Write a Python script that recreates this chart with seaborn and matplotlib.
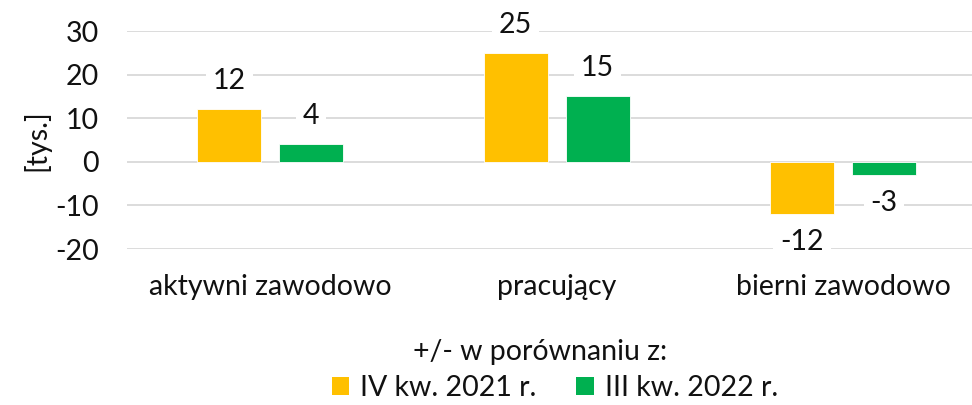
import matplotlib
matplotlib.use("Agg")
import matplotlib.pyplot as plt
import seaborn as sns
import pandas as pd
from matplotlib.patches import Patch

# dane
kategorie = ["aktywni zawodowo", "pracujący", "bierni zawodowo"]
serie = ["IV kw. 2021 r.", "III kw. 2022 r."]
zmiana_iv_2021 = [12, 25, -12]
zmiana_iii_2022 = [4, 15, -3]
kolory = ["#FFC000", "#00B050"]
y_ticks = [-20, -10, 0, 10, 20, 30]

df = pd.DataFrame({
    "kategoria": kategorie * 2,
    "seria": [serie[0]] * 3 + [serie[1]] * 3,
    "wartosc": zmiana_iv_2021 + zmiana_iii_2022,
})

sns.set_style("white")
plt.rcParams["font.family"] = ["Lato", "DejaVu Sans"]
plt.rcParams["axes.unicode_minus"] = False

FS = 20.5
TXT = "#111111"

fig = plt.figure(figsize=(9.72, 4.05), dpi=100)
ax = fig.add_axes([127 / 972, 1 - 249 / 405, 1 - 127 / 972, 218 / 405])

sns.barplot(data=df, x="kategoria", y="wartosc", hue="seria",
            palette=kolory, saturation=1, width=0.572, gap=0.22, ax=ax,
            edgecolor="white", linewidth=0.6, legend=False)

for cont in ax.containers:
    ax.bar_label(cont, fmt="%d", padding=11, fontsize=FS, color=TXT,
                 bbox=dict(facecolor="white", edgecolor="none", pad=5))

ax.set_xlim(-0.5, 2.45)
ax.set_ylim(-20, 30)
ax.set_yticks(y_ticks)
ax.set_axisbelow(True)
ax.grid(axis="y", color="#D9D9D9", linewidth=1.3)
sns.despine(ax=ax, left=True, bottom=True)
ax.tick_params(axis="y", length=0, pad=20, labelsize=FS, labelcolor=TXT)
ax.tick_params(axis="x", length=0, pad=18, labelsize=FS, labelcolor=TXT)
ax.set_xlabel("")
ax.set_ylabel("[tys.]", fontsize=FS, color=TXT, labelpad=4)

fig.text(540 / 972, 1 - 352 / 405, "+/- w porównaniu z:", ha="center", va="center",
         fontsize=FS, color=TXT)
uchwyty = [Patch(facecolor=c, edgecolor="none") for c in kolory]
fig.legend(uchwyty, serie, loc="center", bbox_to_anchor=(555 / 972, 1 - 388 / 405),
           ncol=2, frameon=False, fontsize=FS, handlelength=0.6, handleheight=0.6,
           handletextpad=0.4, columnspacing=1.4, labelcolor=TXT)

fig.savefig("out.png", dpi=100)
